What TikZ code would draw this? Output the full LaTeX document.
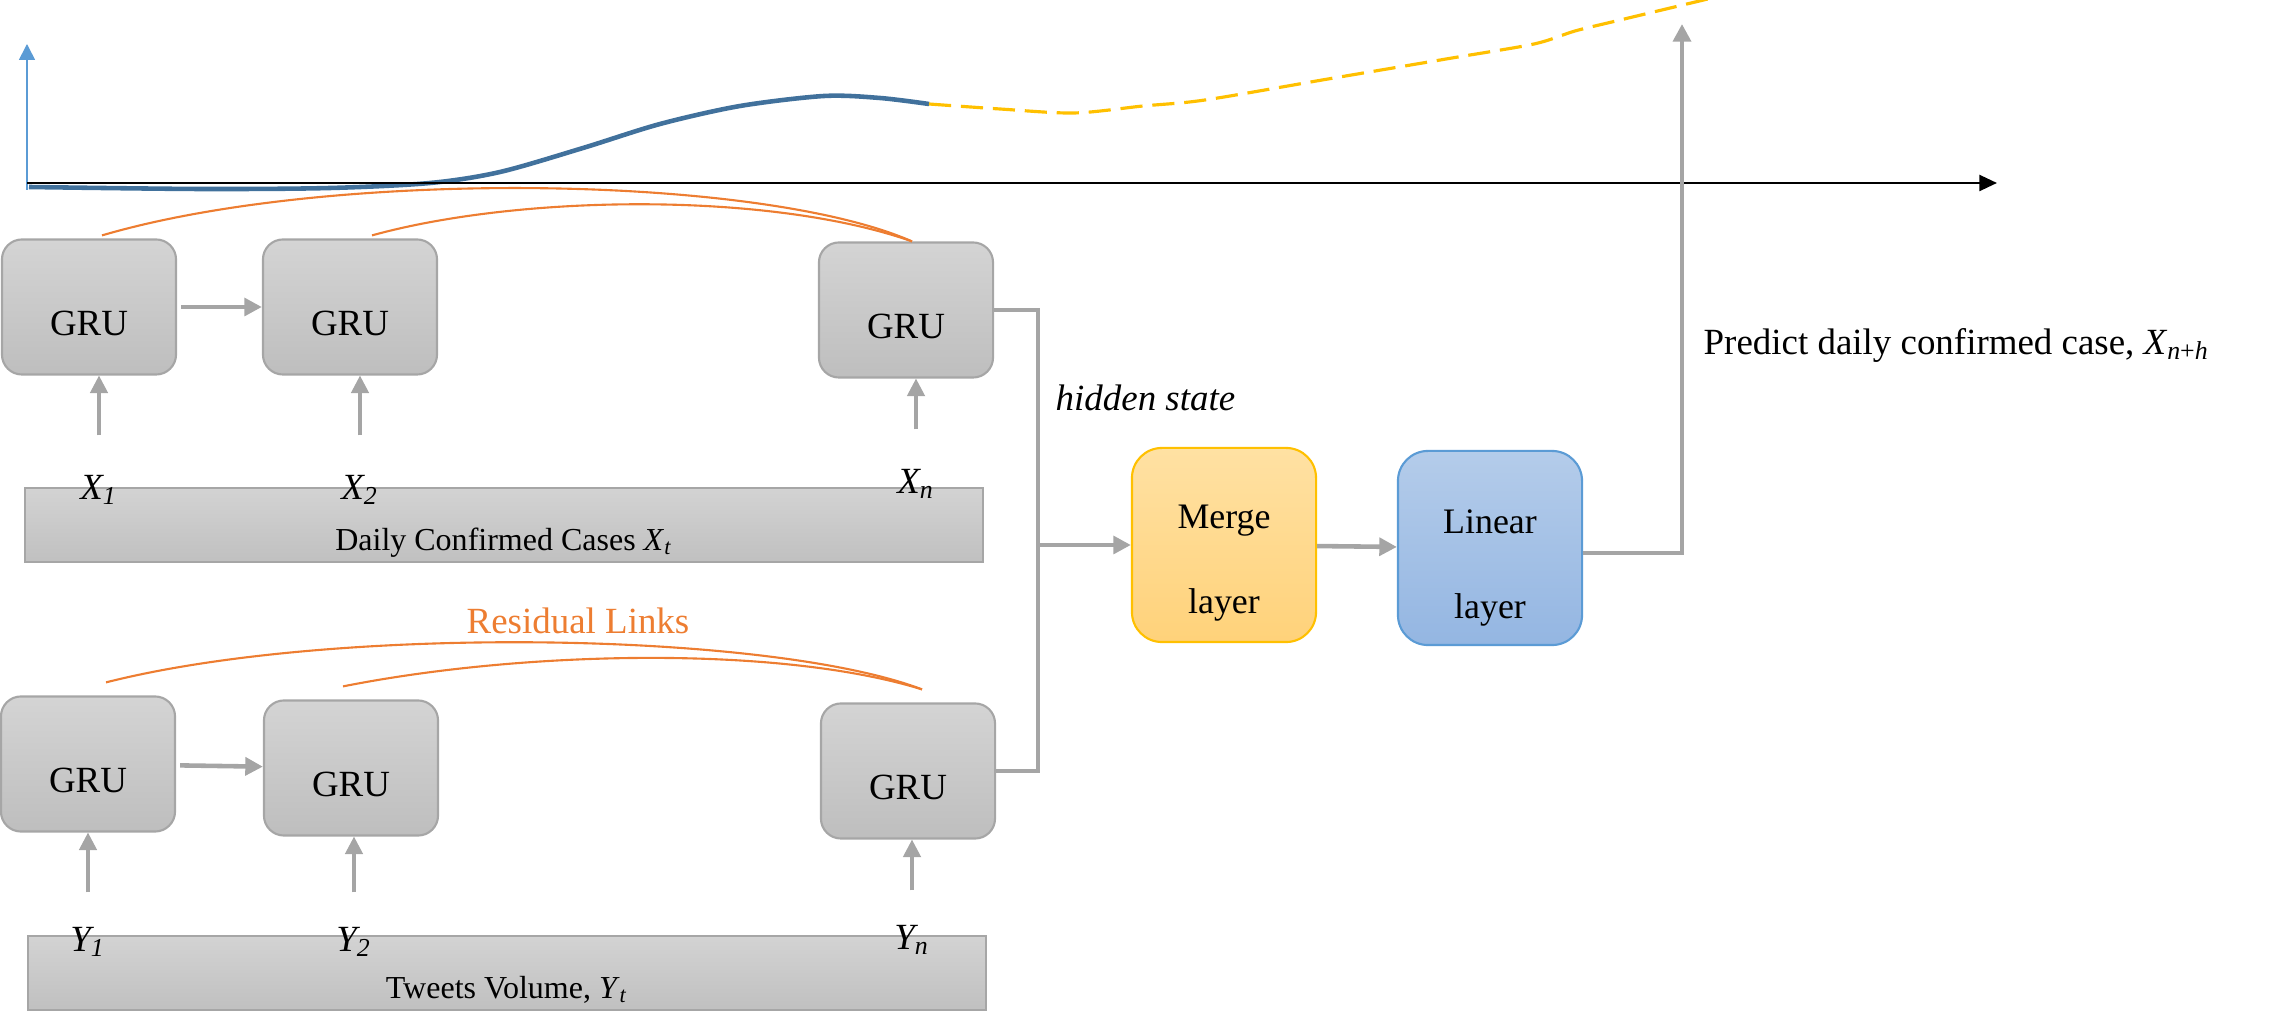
\documentclass[tikz,border=0pt]{standalone}
\usepackage{fontspec}
\setmainfont{Liberation Serif}
\usetikzlibrary{arrows.meta}

\definecolor{grutop}{HTML}{D4D4D4}
\definecolor{grubot}{HTML}{BEBEBE}
\definecolor{gruline}{HTML}{A6A6A6}
\definecolor{bartop}{HTML}{D3D3D3}
\definecolor{barbot}{HTML}{C0C0C0}
\definecolor{mergetop}{HTML}{FFE1A3}
\definecolor{mergebot}{HTML}{FFD27A}
\definecolor{mergeline}{HTML}{FFC000}
\definecolor{lintop}{HTML}{B4CCEA}
\definecolor{linbot}{HTML}{94B6E2}
\definecolor{linline}{HTML}{5B9BD5}
\definecolor{arrgray}{HTML}{A5A5A5}
\definecolor{resorange}{HTML}{ED7D31}
\definecolor{curveblue}{HTML}{41719C}
\definecolor{predyellow}{HTML}{FFC000}
\definecolor{axisblue}{HTML}{5B9BD5}

\begin{document}
\begin{tikzpicture}[
                x=0.01cm, y=-0.01cm,
                every node/.style={inner sep=0pt},
                gru/.style={draw=gruline, line width=0.6pt, rounded corners=0.2cm,
                    top color=grutop, bottom color=grubot,
                    minimum width=1.74cm, minimum height=1.35cm,
                    text height=0.56cm, text depth=0pt,
                    font=\fontsize{10.5}{12}\selectfont},
                bar/.style={draw=gruline, line width=0.6pt,
                    top color=bartop, bottom color=barbot,
                    minimum width=9.58cm, minimum height=0.74cm,
                    text height=0.58cm, text depth=0.07cm,
                    font=\fontsize{9.1}{11}\selectfont},
                layerbox/.style={rounded corners=0.3cm, line width=0.6pt,
                    minimum width=1.84cm, minimum height=1.94cm},
                layertxt/.style={align=center, font=\fontsize{10.2}{24}\selectfont},
                lbl/.style={font=\fontsize{10.5}{12}\selectfont\itshape},
                txt/.style={font=\fontsize{10.5}{12}\selectfont},
                arr/.style={draw=arrgray, line width=1.3pt, -{Triangle[length=5pt,width=5pt]}},
                inarr/.style={draw=arrgray, line width=0.9pt, -{Triangle[length=5pt,width=5pt]}},
                bus/.style={draw=arrgray, line width=1pt},
                res/.style={draw=resorange, line width=0.6pt},
            ]
            \useasboundingbox (0,0) rectangle (2287,1031);

            % chart
            \draw[curveblue, line width=1.3pt] plot[smooth] coordinates {
                (29,187) (200,189) (330,188) (430,183) (500,172) (583,148)
                (660,124) (740,106) (824,96) (880,98) (929,104)};
            \draw[predyellow, line width=0.9pt, dash pattern=on 6.3pt off 2.8pt] plot[smooth] coordinates {
                (929,104) (1000,109) (1074,113) (1143,106) (1205,100) (1328,79)
                (1452,58) (1534,44) (1575,31) (1616,21) (1712,-2)};
            \coordinate (o) at (27,183);
            \draw[axisblue, line width=0.45pt, -{Triangle[length=4.5pt,width=4.5pt]}] (27,190) -- (27,44);
            \draw[line width=0.75pt, -{Triangle[length=5pt,width=4.5pt]}] (o) -- (1997,183);

            % GRU rows
            \node[gru] (g11) at (89,307) {GRU};
            \node[gru] (g12) at (350,307) {GRU};
            \node[gru] (g13) at (906,310) {GRU};
            \node[gru] (g21) at (88,764) {GRU};
            \node[gru] (g22) at (351,768) {GRU};
            \node[gru] (g23) at (908,771) {GRU};

            \node[bar] (xbar) at (504,525) {Daily Confirmed Cases \textit{X}\textsubscript{\textit{t}}};
            \node[bar] (ybar) at (507,973) {Tweets Volume, \textit{Y}\textsubscript{\textit{t}}};

            \node[lbl] (x1) at (99,490) {X\textsubscript{1}};
            \node[lbl] (x2) at (360,490) {X\textsubscript{2}};
            \node[lbl] (xn) at (916,484) {X\textsubscript{n}};
            \node[lbl] (y1) at (88,942) {Y\textsubscript{1}};
            \node[lbl] (y2) at (354,942) {Y\textsubscript{2}};
            \node[lbl] (yn) at (912,940) {Y\textsubscript{n}};

            \draw[inarr] ([yshift=0.39cm]x1.north) -- (x1 |- g11.south);
            \draw[inarr] ([yshift=0.39cm]x2.north) -- (x2 |- g12.south);
            \draw[inarr] ([yshift=0.39cm]xn.north) -- (xn |- g13.south);
            \draw[inarr] ([yshift=0.34cm]y1.north) -- (y1 |- g21.south);
            \draw[inarr] ([yshift=0.34cm]y2.north) -- (y2 |- g22.south);
            \draw[inarr] ([yshift=0.34cm]yn.north) -- (yn |- g23.south);

            \draw[arr, shorten <=0.04cm] (g11) -- (g12);
            \draw[arr, shorten <=0.04cm] (g21) -- (g22);

            % residual links
            \draw[res] ([xshift=0.13cm,yshift=0.03cm]g11.north) .. controls +(228,-67) and +(-152,-67) .. ([xshift=0.06cm]g13.north);
            \draw[res] ([xshift=0.22cm,yshift=0.03cm]g12.north) .. controls +(148,-41) and +(-142,-50) .. ([xshift=0.06cm]g13.north);
            \draw[res] ([xshift=0.18cm,yshift=0.13cm]g21.north) .. controls +(228,-58) and +(-152,-58) .. ([xshift=0.14cm,yshift=0.13cm]g23.north);
            \draw[res] ([xshift=-0.08cm,yshift=0.13cm]g22.north) .. controls +(181,-36) and +(-142,-44) .. ([xshift=0.14cm,yshift=0.13cm]g23.north);
            \node[txt, text=resorange] (reslinks) at (578,621) {Residual Links};

            % merge and output
            \node[layerbox, draw=mergeline, top color=mergetop, bottom color=mergebot] (merge) at (1224,545) {};
            \node[layerbox, draw=linline, top color=lintop, bottom color=linbot] (linear) at (1490,548) {};
            \node[layertxt] (mergetxt) at ([yshift=-0.18cm]merge.center) {Merge\\layer};
            \node[layertxt] (lineartxt) at ([yshift=-0.2cm]linear.center) {Linear\\layer};

            \coordinate (join) at (1038,545);
            \draw[bus] (g13.east) -| (join) |- (g23.east);
            \draw[arr] (join) -- (merge);
            \draw[arr] (merge) -- (linear);
            \coordinate (out) at (1682,24);
            \draw[arr] ([yshift=-0.05cm]linear.east) -| (out);

            \node[txt, font=\fontsize{10.5}{12}\selectfont\itshape, anchor=west] (hidden) at (1055,398) {hidden state};
            \node[txt, anchor=west] (predict) at (1703,345) {Predict daily confirmed case, \textit{X}\textsubscript{\textit{n}+\textit{h}}};
            \end{tikzpicture}
\end{document}
